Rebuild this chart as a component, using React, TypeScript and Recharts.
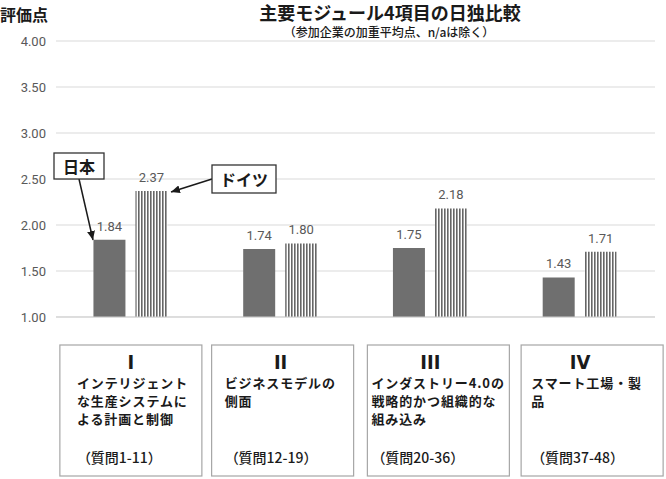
import React from 'react';
import { BarChart, Bar, XAxis, YAxis, CartesianGrid, LabelList } from 'recharts';

const categories = ['I', 'II', 'III', 'IV'];
const japanValues = [1.84, 1.74, 1.75, 1.43];
const germanyValues = [2.37, 1.8, 2.18, 1.71];
const yTicks = [1, 1.5, 2, 2.5, 3, 3.5, 4];
const boxLines = [
  ['インテリジェント', 'な生産システムに', 'よる計画と制御'],
  ['ビジネスモデルの', '側面'],
  ['インダストリー4.0の', '戦略的かつ組織的な', '組み込み'],
  ['スマート工場・製', '品'],
];
const boxQuestions = ['（質問1-11）', '（質問12-19）', '（質問20-36）', '（質問37-48）'];

const data = categories.map((c, i) => ({ cat: c, japan: japanValues[i], germany: germanyValues[i] }));

const JP = "'Noto Sans CJK JP', 'Noto Sans', sans-serif";
const boxNudge = [0, 2, 8, 12];
const textPad = [17, 13, 4, 10];

const CategoryTick = (props: any) => {
  const { x, y, payload } = props;
  const i = props.index ?? payload.index ?? categories.indexOf(payload.value);
  const left = x - 71 + boxNudge[i];
  return (
    <g>
      <rect x={left} y={y + 28} width={142} height={131} fill="#fff" stroke="#a6a6a6" strokeWidth={1.2} />
      <text
        x={x}
        y={y + 45}
        textAnchor="middle"
        dominantBaseline="central"
        fontFamily="'DejaVu Sans Condensed', 'Liberation Sans Narrow', sans-serif"
        fontWeight="bold"
        fontSize={20}
        fill="#1a1a1a"
      >
        {categories[i]}
      </text>
      {boxLines[i].map((t, k) => (
        <text
          key={k}
          x={left + textPad[i]}
          y={y + 65 + k * 18}
          dominantBaseline="central"
          fontFamily={JP}
          fontWeight="bold"
          fontSize={13}
          letterSpacing={0.9}
          fill="#1a1a1a"
        >
          {t}
        </text>
      ))}
      <text
        x={left + textPad[i]}
        y={y + 140}
        dominantBaseline="central"
        fontFamily={JP}
        fontWeight={500}
        fontSize={14}
        fill="#1a1a1a"
      >
        {boxQuestions[i]}
      </text>
    </g>
  );
};

export default function App() {
  return (
    <div style={{ position: 'absolute', left: 0, top: 0, width: 666, height: 479, background: '#fff' }}>
      <BarChart
        width={666}
        height={479}
        data={data}
        margin={{ top: 41, right: 11, left: 10, bottom: 0 }}
        barCategoryGap="25%"
        barGap={10}
      >
        <defs>
          <pattern id="stripes" patternUnits="userSpaceOnUse" width={3} height={6}>
            <rect x={0} y={0} width={3} height={6} fill="#ffffff" />
            <rect x={0} y={0} width={1.6} height={6} fill="#666666" />
          </pattern>
        </defs>
        <CartesianGrid vertical={false} stroke="#d9d9d9" />
        <XAxis
          dataKey="cat"
          height={162}
          interval={0}
          tickSize={0}
          tickMargin={0}
          tickLine={false}
          axisLine={{ stroke: '#cfcfcf' }}
          tick={<CategoryTick />}
        />
        <YAxis
          width={46}
          domain={[1, 4]}
          ticks={yTicks}
          tickFormatter={(v: number) => v.toFixed(2)}
          axisLine={false}
          tickLine={false}
          tickMargin={4}
          tick={{ fill: '#595959', fontSize: 13, fontFamily: 'Roboto, sans-serif' }}
        />
        <Bar dataKey="japan" fill="#6f6f6f" isAnimationActive={false}>
          <LabelList
            dataKey="japan"
            position="top"
            offset={9}
            formatter={(v: number) => v.toFixed(2)}
            fill="#595959"
            fontSize={13}
            fontFamily="Roboto, sans-serif"
          />
        </Bar>
        <Bar dataKey="germany" fill="url(#stripes)" isAnimationActive={false}>
          <LabelList
            dataKey="germany"
            position="top"
            offset={9}
            formatter={(v: number) => v.toFixed(2)}
            fill="#595959"
            fontSize={13}
            fontFamily="Roboto, sans-serif"
          />
        </Bar>
      </BarChart>
      <svg
        width={666}
        height={479}
        style={{ position: 'absolute', left: 0, top: 0, pointerEvents: 'none' }}
      >
        <defs>
          <marker id="arrowHead" markerUnits="userSpaceOnUse" markerWidth={9} markerHeight={8} refX={9} refY={4} orient="auto">
            <path d="M0,0 L9,4 L0,8 z" fill="#1a1a1a" />
          </marker>
        </defs>
        <text x={0} y={14} dominantBaseline="central" fontFamily={JP} fontWeight="bold" fontSize={16} fill="#1a1a1a">
          評価点
        </text>
        <text x={390} y={12} textAnchor="middle" dominantBaseline="central" fontFamily={JP} fontWeight="bold" fontSize={18} fill="#1a1a1a">
          主要モジュール4項目の日独比較
        </text>
        <text x={389} y={31} textAnchor="middle" dominantBaseline="central" fontFamily={JP} fontWeight={500} fontSize={12} fill="#1a1a1a">
          （参加企業の加重平均点、n/aは除く）
        </text>
        <line x1={79} y1={179} x2={93} y2={240} stroke="#1a1a1a" strokeWidth={1.5} markerEnd="url(#arrowHead)" />
        <rect x={54} y={153} width={50} height={26} fill="#fff" stroke="#333" strokeWidth={1.3} />
        <text x={79} y={166} textAnchor="middle" dominantBaseline="central" fontFamily={JP} fontWeight="bold" fontSize={16} fill="#1a1a1a">
          日本
        </text>
        <line x1={212} y1={179} x2={171} y2={192} stroke="#1a1a1a" strokeWidth={1.5} markerEnd="url(#arrowHead)" />
        <rect x={212} y={165} width={64} height={28} fill="#fff" stroke="#333" strokeWidth={1.3} />
        <text x={244} y={179} textAnchor="middle" dominantBaseline="central" fontFamily={JP} fontWeight="bold" fontSize={16} fill="#1a1a1a">
          ドイツ
        </text>
      </svg>
    </div>
  );
}
